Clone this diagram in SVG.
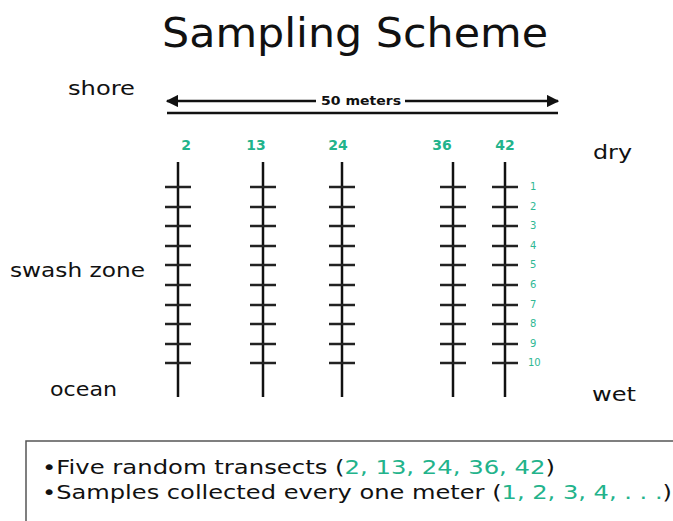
<svg xmlns="http://www.w3.org/2000/svg" width="673" height="521" viewBox="0 0 673 521">
<style>
text{font-family:"DejaVu Sans","Liberation Sans",sans-serif;fill:#111}
.lbl{font-size:20px}
.num{font-size:14px;font-weight:bold;fill:#22b38b;text-anchor:middle}
.idx{font-size:10px;fill:#2fb894}
.t{fill:#22b38b}
.ln{stroke:#111;stroke-width:2.5;fill:none}
.tk{stroke:#222;stroke-width:2.5}
</style>
<defs>
<marker id="ah" viewBox="0 0 10 10" refX="9" refY="5" markerWidth="5" markerHeight="5" orient="auto-start-reverse" markerUnits="strokeWidth">
<path d="M0,0 L10,5 L0,10 Z" fill="#111"/>
</marker>
<g id="tr">
<line x1="0" y1="162" x2="0" y2="397" class="ln"/>
<line x1="-13" y1="187" x2="13" y2="187" class="tk"/>
<line x1="-13" y1="207" x2="13" y2="207" class="tk"/>
<line x1="-13" y1="226" x2="13" y2="226" class="tk"/>
<line x1="-13" y1="246" x2="13" y2="246" class="tk"/>
<line x1="-13" y1="265" x2="13" y2="265" class="tk"/>
<line x1="-13" y1="285" x2="13" y2="285" class="tk"/>
<line x1="-13" y1="305" x2="13" y2="305" class="tk"/>
<line x1="-13" y1="324" x2="13" y2="324" class="tk"/>
<line x1="-13" y1="344" x2="13" y2="344" class="tk"/>
<line x1="-13" y1="363" x2="13" y2="363" class="tk"/>
</g>
</defs>
<rect width="673" height="521" fill="#fff"/>
<text x="355" y="47" font-size="40" text-anchor="middle" textLength="386" lengthAdjust="spacingAndGlyphs">Sampling Scheme</text>
<g id="labels">
<text class="lbl" x="68" y="95" textLength="67" lengthAdjust="spacingAndGlyphs">shore</text>
<text class="lbl" x="10" y="277" textLength="135" lengthAdjust="spacingAndGlyphs">swash zone</text>
<text class="lbl" x="50" y="396" textLength="67" lengthAdjust="spacingAndGlyphs">ocean</text>
<text class="lbl" x="593" y="159" textLength="39" lengthAdjust="spacingAndGlyphs">dry</text>
<text class="lbl" x="592" y="401" textLength="44" lengthAdjust="spacingAndGlyphs">wet</text>
</g>
<g id="connectors">
<line x1="167" y1="101" x2="316" y2="101" class="ln" marker-start="url(#ah)"/>
<line x1="405" y1="101" x2="558" y2="101" class="ln" marker-end="url(#ah)"/>
<line x1="167" y1="113" x2="558" y2="113" class="ln"/>
</g>
<text x="361" y="105" font-size="13" font-weight="bold" text-anchor="middle" textLength="80" lengthAdjust="spacingAndGlyphs">50 meters</text>
<g id="transect-2"><text class="num" x="186" y="150">2</text><use href="#tr" x="178"/></g>
<g id="transect-13"><text class="num" x="256" y="150">13</text><use href="#tr" x="263"/></g>
<g id="transect-24"><text class="num" x="338" y="150">24</text><use href="#tr" x="342"/></g>
<g id="transect-36"><text class="num" x="442" y="150">36</text><use href="#tr" x="453"/></g>
<g id="transect-42"><text class="num" x="505" y="150">42</text><use href="#tr" x="505"/></g>
<g id="indices">
<text class="idx" x="530" y="190">1</text>
<text class="idx" x="530" y="210">2</text>
<text class="idx" x="530" y="229">3</text>
<text class="idx" x="530" y="249">4</text>
<text class="idx" x="530" y="268">5</text>
<text class="idx" x="530" y="288">6</text>
<text class="idx" x="530" y="308">7</text>
<text class="idx" x="530" y="327">8</text>
<text class="idx" x="530" y="347">9</text>
<text class="idx" x="528" y="366">10</text>
</g>
<g id="notes">
<rect x="26" y="441" width="660" height="100" fill="#fff" stroke="#555" stroke-width="1.5"/>
<text class="lbl" x="42" y="474" textLength="513" lengthAdjust="spacingAndGlyphs">•Five random transects (<tspan class="t">2, 13, 24, 36, 42</tspan>)</text>
<text class="lbl" x="42" y="499" textLength="630" lengthAdjust="spacingAndGlyphs">•Samples collected every one meter (<tspan class="t">1, 2, 3, 4, . . .</tspan>)</text>
</g>
</svg>
